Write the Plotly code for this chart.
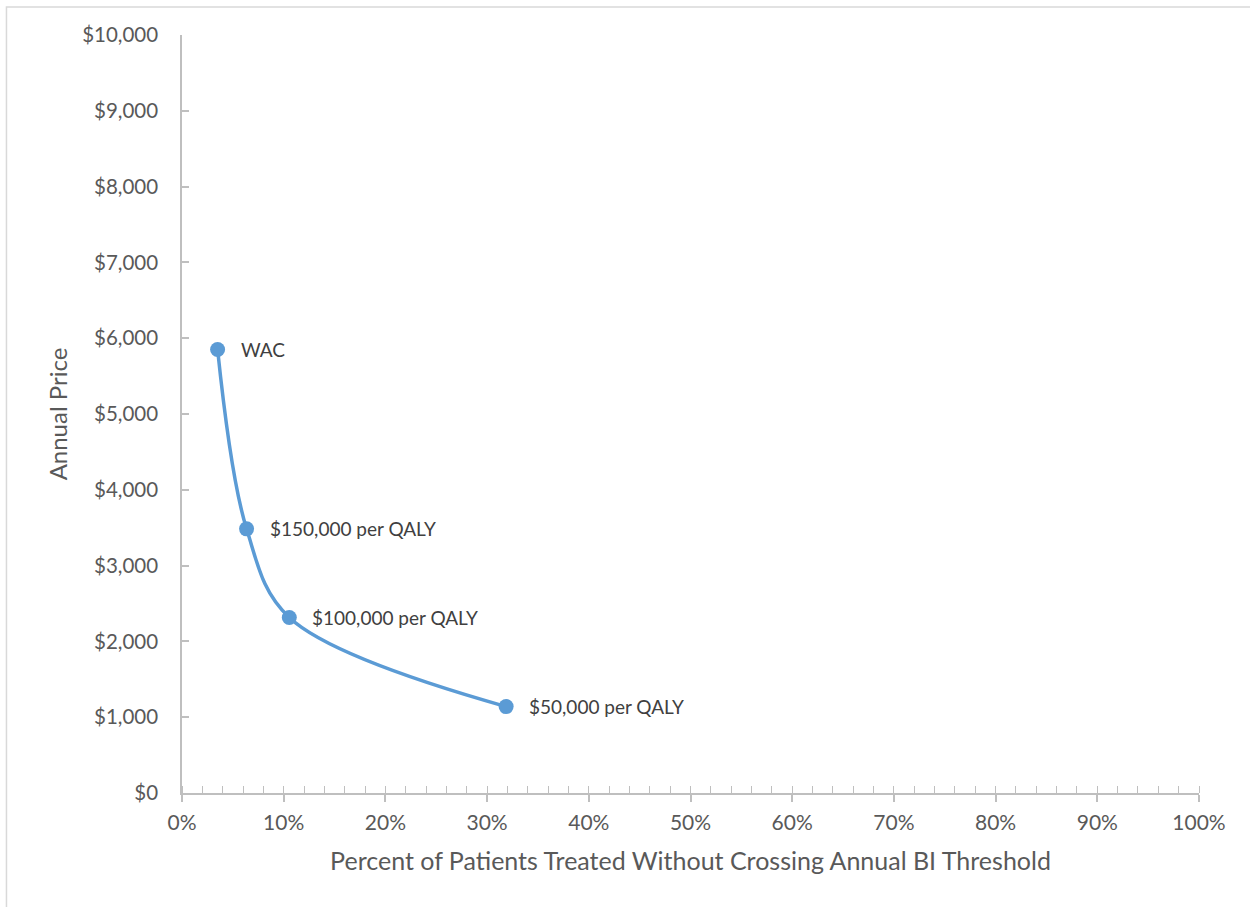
import plotly.graph_objects as go

# Price points at each cost-effectiveness threshold
labels = ["WAC", "$150,000 per QALY", "$100,000 per QALY", "$50,000 per QALY"]
pct_treated = [0.035, 0.0635, 0.1055, 0.3187]
annual_price = [5850, 3485, 2315, 1140]

x_ticks = [i / 10 for i in range(11)]
x_tick_text = [f"{i * 10}%" for i in range(11)]
y_ticks = list(range(0, 10001, 1000))
y_tick_text = [f"${v:,}" for v in y_ticks]

FONT = "Lato"
GRAY_TXT = "#595959"
AXIS_CLR = "#BFBFBF"
BLUE = "#5B9BD5"

fig = go.Figure()
fig.add_trace(go.Scatter(
    x=pct_treated, y=annual_price,
    mode="lines+markers",
    line=dict(color=BLUE, width=3.5, shape="spline", smoothing=1.0),
    marker=dict(color=BLUE, size=15),
    hoverinfo="skip",
    showlegend=False,
))

for lab, xv, yv in zip(labels, pct_treated, annual_price):
    fig.add_annotation(
        x=xv, y=yv, text=lab, showarrow=False,
        xanchor="left", yanchor="middle", xshift=21,
        font=dict(family=FONT, size=19, color="#404040"),
    )

# light frame around the whole chart area
fig.add_shape(
    type="rect", xref="paper", yref="paper",
    x0=-0.1726, x1=1.06, y0=-0.16, y1=1.037,
    line=dict(color="#D9D9D9", width=1.5), fillcolor="rgba(0,0,0,0)",
    layer="below",
)

fig.update_layout(
    width=1250, height=907,
    margin=dict(l=182, r=51, t=35, b=114),
    paper_bgcolor="white", plot_bgcolor="white",
    font=dict(family=FONT, color=GRAY_TXT),
    xaxis=dict(
        range=[0, 1], tickvals=x_ticks, ticktext=x_tick_text,
        showgrid=False, zeroline=False,
        showline=True, linecolor=AXIS_CLR, linewidth=1.5,
        ticks="outside", ticklen=7, tickcolor=AXIS_CLR, tickwidth=1.5,
        minor=dict(dtick=0.02, ticks="inside", ticklen=7,
                   tickcolor=AXIS_CLR, tickwidth=1.2, showgrid=False),
        tickfont=dict(family=FONT, size=21, color=GRAY_TXT),
        ticklabelstandoff=3,
        title=dict(text="Percent of Patients Treated Without Crossing Annual BI Threshold",
                   font=dict(family=FONT, size=25, color=GRAY_TXT), standoff=20),
    ),
    yaxis=dict(
        range=[0, 10000], tickvals=y_ticks, ticktext=y_tick_text,
        showgrid=False, zeroline=False,
        showline=True, linecolor=AXIS_CLR, linewidth=1.5,
        ticks="inside", ticklen=7, tickcolor=AXIS_CLR, tickwidth=1.5,
        tickfont=dict(family=FONT, size=20.5, color=GRAY_TXT),
        ticklabelstandoff=18,
        title=dict(text="Annual Price",
                   font=dict(family=FONT, size=24, color=GRAY_TXT), standoff=8),
    ),
)

fig.write_html("out.html")
